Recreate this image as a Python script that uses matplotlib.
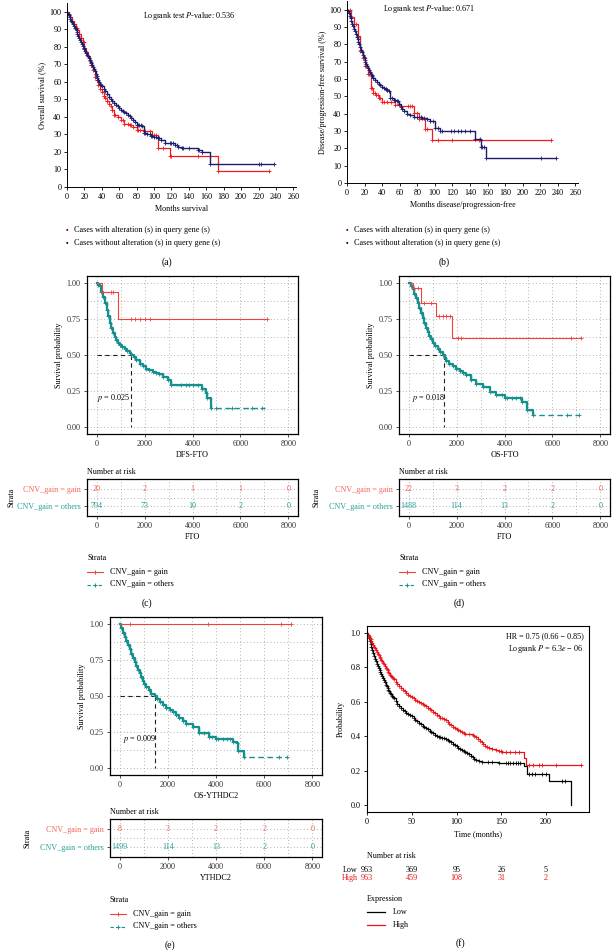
import matplotlib
matplotlib.use("Agg")
import matplotlib.pyplot as plt
import numpy as np
from matplotlib.lines import Line2D

plt.rcParams["font.family"] = ["Liberation Serif", "DejaVu Serif"]
plt.rcParams["mathtext.fontset"] = "stix"

W, H = 612, 950

# ---- (a) overall survival, months ----
a_red_t = [0, 2, 4, 6, 8, 10, 12, 14, 16, 18, 20, 22, 24, 26, 28, 30, 32, 34, 36, 38, 40, 42, 44, 46, 48, 50, 52, 54, 58, 62, 66, 72, 76, 80, 88, 98, 105, 118, 173]
a_red_s = [100, 98.5, 97, 95, 93, 91, 89.5, 87.5, 85, 82.5, 79.5, 77, 75, 72, 69.5, 67, 63, 61, 58, 56, 54, 52, 51, 49, 47.5, 46, 44, 41, 40, 38, 36, 35.5, 34, 32.5, 32, 29.5, 22, 17.5, 9]
a_red_cens = [11, 14, 16, 19, 28, 35, 42, 46, 52, 55, 64, 70, 73, 82, 84, 90, 95, 100, 102, 110, 119, 150, 232]
a_blue_t = [0, 1, 2, 3, 4, 5, 6, 7, 8, 9, 10, 11, 12, 13, 14, 15, 16, 17, 18, 19, 20, 21, 22, 23, 24, 25, 26, 27, 28, 29, 30, 31, 32, 33, 34, 35, 36, 37, 38, 39, 40, 42, 44, 46, 48, 50, 52, 54, 56, 58, 60, 62, 64, 66, 68, 70, 72, 74, 76, 78, 80, 86, 88, 92, 96, 100, 104, 108, 112, 124, 128, 132, 150, 155, 164]
a_blue_s = [100, 99, 98, 97, 96, 95, 94, 93, 92, 91, 90, 88.7, 87.5, 86.2, 85, 83.7, 82.5, 81.5, 80.5, 79.5, 78.5, 77.5, 76.5, 75.5, 74.5, 73.5, 72.5, 71.5, 70.5, 69.5, 68.5, 67.2, 66, 64.7, 63.5, 62.2, 61, 60, 59, 58.2, 57.5, 56, 54.5, 53, 51.5, 50, 49, 48, 47, 46, 45, 44, 43.3, 42.6, 42, 41.3, 40.6, 39.5, 38.5, 37, 35.5, 35, 31, 30, 29, 28.5, 28, 27, 25, 24, 23, 22, 21, 20, 13]
a_blue_cens = [81, 83, 85, 90, 95, 98, 102, 106, 118, 120, 122, 126, 133, 140, 152, 155, 220, 223, 238]

# ---- (b) disease/progression-free survival, months ----
b_red_t = [0, 4, 8, 13, 15, 18, 21, 24, 27, 30, 33, 36, 40, 55, 61, 76, 82, 89, 97]
b_red_s = [100, 96, 92, 85, 76, 72, 67.5, 63, 55, 52, 50.5, 49, 47, 45, 44.5, 40.5, 37, 31, 25]
b_red_cens = [3, 5, 10, 20, 22, 25, 28, 32, 35, 38, 42, 46, 50, 70, 72, 74, 80, 91, 104, 120, 150, 232]
b_blue_t = [0, 1, 2, 3, 4, 5, 6, 7, 8, 9, 10, 11, 12, 13, 14, 15, 16, 17, 18, 19, 20, 21, 22, 23, 24, 25, 26, 27, 28, 29, 30, 32, 34, 36, 38, 40, 42, 44, 46, 47.5, 49, 53, 57, 59, 61, 63, 65, 68, 72, 76, 85, 91, 95, 100, 106, 146, 152, 158]
b_blue_s = [100, 99, 98, 96.5, 95, 93.5, 92, 90.5, 89, 87.5, 86, 84.5, 83, 81.5, 80, 78.5, 77, 75.5, 74, 72.5, 71, 69.8, 68.6, 67.4, 66.2, 65, 64, 63, 62.2, 61.5, 60.8, 59.5, 58.3, 57.3, 56.3, 55.5, 54.7, 54, 53.5, 53, 49, 48, 47.4, 45.5, 44, 42.5, 41.3, 40, 39, 38, 37.5, 37, 36, 32, 30, 25.4, 21, 14.3]
b_blue_cens = [44, 46, 51, 55, 58, 80, 84, 88, 98, 104, 108, 118, 122, 126, 130, 134, 140, 151, 154, 156, 221, 238]

# ---- (c) DFS-FTO, days ----
c_red_t = [0, 207, 897]
c_red_s = [1.0, 0.94, 0.75]
c_red_cens = [207, 620, 690, 1450, 1590, 1790, 2000, 2210, 7100]
c_teal_t = [0, 70, 138, 200, 276, 340, 414, 480, 552, 620, 690, 760, 828, 900, 966, 1070, 1172, 1280, 1380, 1450, 1550, 1655, 1800, 1930, 2060, 2200, 2340, 2480, 2620, 2760, 2965, 3100, 4414, 4550, 4620, 4760]
c_teal_s = [1.0, 0.99, 0.977, 0.94, 0.907, 0.86, 0.814, 0.77, 0.72, 0.685, 0.65, 0.625, 0.605, 0.585, 0.57, 0.555, 0.54, 0.528, 0.516, 0.50, 0.483, 0.465, 0.44, 0.42, 0.405, 0.395, 0.385, 0.377, 0.365, 0.35, 0.325, 0.29, 0.26, 0.237, 0.198, 0.133]
c_teal_cens = [3520, 3720, 3860, 4000, 4210, 4970, 5660, 6480, 6900]

# ---- (d) OS-FTO, days ----
d_red_t = [0, 168, 517, 1147, 1804]
d_red_s = [1.0, 0.965, 0.86, 0.775, 0.62]
d_red_cens = [238, 378, 657, 937, 1287, 1427, 1567, 1707, 2065, 2205, 6790, 7190]
d_teal_t = [0, 80, 168, 240, 308, 380, 448, 520, 587, 660, 727, 800, 867, 940, 1007, 1110, 1217, 1320, 1427, 1500, 1566, 1700, 1846, 1980, 2126, 2260, 2405, 2615, 2825, 3105, 3385, 3664, 4014, 4713, 4923, 5203]
d_teal_s = [1.0, 0.98, 0.958, 0.925, 0.895, 0.86, 0.826, 0.79, 0.756, 0.722, 0.69, 0.66, 0.633, 0.61, 0.586, 0.563, 0.54, 0.52, 0.50, 0.48, 0.46, 0.44, 0.42, 0.405, 0.39, 0.375, 0.36, 0.326, 0.30, 0.28, 0.245, 0.22, 0.198, 0.175, 0.116, 0.081]
d_teal_cens = [3900, 4100, 4300, 4500, 4650, 6600, 7090]

# ---- (e) OS-YTHDC2, days ----
e_red_t = [0]
e_red_s = [1.0]
e_red_cens = [414, 3655, 6690, 7130]
e_teal_t = [0, 70, 138, 210, 276, 345, 414, 480, 552, 620, 690, 760, 828, 900, 966, 1030, 1103, 1210, 1310, 1448, 1550, 1655, 1800, 1931, 2070, 2207, 2340, 2483, 2620, 2759, 3034, 3310, 3724, 4000, 4690, 4855, 4900, 5172]
e_teal_s = [1.0, 0.97, 0.94, 0.91, 0.883, 0.855, 0.825, 0.795, 0.766, 0.737, 0.708, 0.683, 0.657, 0.63, 0.603, 0.583, 0.563, 0.54, 0.516, 0.50, 0.477, 0.455, 0.435, 0.416, 0.40, 0.388, 0.37, 0.35, 0.327, 0.304, 0.287, 0.245, 0.217, 0.199, 0.18, 0.17, 0.12, 0.077]
e_teal_cens = [3500, 3650, 3850, 4100, 4300, 4450, 4600, 6600, 6966]

# ---- (f) KM plotter, months ----
f_low_t = [0, 1, 2, 3, 4, 5, 6, 7, 8, 9, 10, 11, 12, 13, 14, 15, 16, 17, 18, 19, 20, 21, 22, 23, 24, 25, 26, 27, 28, 29, 30, 32, 34, 36, 38, 40, 42, 44, 46, 48, 50, 52, 54, 56, 58, 60, 62, 64, 66, 68, 70, 72, 74, 76, 78, 80, 82, 84, 86, 88, 90, 92, 94, 96, 98, 100, 102, 104, 106, 108, 110, 112, 114, 116, 118, 120, 122, 125, 129, 135, 140, 148, 155, 175.5, 179, 203, 227.5]
f_low_s = [1.0, 0.985, 0.97, 0.953, 0.935, 0.917, 0.898, 0.882, 0.866, 0.85, 0.835, 0.822, 0.81, 0.797, 0.785, 0.772, 0.76, 0.748, 0.736, 0.724, 0.712, 0.70, 0.69, 0.681, 0.671, 0.662, 0.653, 0.644, 0.636, 0.628, 0.62, 0.605, 0.59, 0.575, 0.565, 0.555, 0.546, 0.537, 0.529, 0.522, 0.515, 0.507, 0.497, 0.487, 0.477, 0.47, 0.462, 0.455, 0.448, 0.44, 0.432, 0.424, 0.417, 0.41, 0.403, 0.397, 0.393, 0.39, 0.387, 0.384, 0.378, 0.371, 0.364, 0.357, 0.349, 0.341, 0.333, 0.326, 0.319, 0.312, 0.306, 0.30, 0.294, 0.288, 0.282, 0.27, 0.263, 0.258, 0.252, 0.25, 0.248, 0.246, 0.244, 0.225, 0.182, 0.138, 0.0]
f_low_cens = [157, 160, 163, 166, 169, 171, 181, 184, 188, 196, 200, 218, 221]
f_high_t = [0, 1, 2, 3, 4, 5, 6, 7, 8, 9, 10, 11, 12, 13, 14, 15, 16, 17, 18, 19, 20, 21, 22, 23, 24, 25, 26, 27, 28, 29, 30, 32, 34, 36, 38, 40, 42, 44, 46, 48, 50, 52, 54, 56, 58, 60, 62, 64, 66, 68, 70, 72, 74, 76, 78, 80, 82, 84, 86, 88, 90, 92, 94, 96, 98, 100, 102, 104, 106, 108, 110, 114, 118, 120, 122, 124, 126, 128, 130, 132, 134, 136, 140, 144, 148, 151, 175, 178]
f_high_s = [1.0, 0.99, 0.98, 0.97, 0.962, 0.952, 0.94, 0.93, 0.92, 0.91, 0.90, 0.89, 0.88, 0.87, 0.862, 0.852, 0.843, 0.834, 0.825, 0.817, 0.808, 0.798, 0.79, 0.782, 0.774, 0.766, 0.758, 0.751, 0.744, 0.737, 0.73, 0.717, 0.704, 0.692, 0.68, 0.67, 0.66, 0.65, 0.642, 0.634, 0.627, 0.62, 0.612, 0.604, 0.597, 0.591, 0.585, 0.579, 0.574, 0.566, 0.558, 0.55, 0.542, 0.534, 0.525, 0.516, 0.508, 0.503, 0.498, 0.493, 0.483, 0.473, 0.464, 0.456, 0.449, 0.442, 0.436, 0.43, 0.425, 0.42, 0.415, 0.412, 0.409, 0.403, 0.395, 0.386, 0.375, 0.364, 0.352, 0.343, 0.336, 0.33, 0.324, 0.318, 0.312, 0.306, 0.273, 0.235]
f_high_cens = [150, 155, 160, 165, 170, 181, 185, 192.5, 196, 211, 238.6]

# ---- risk tables ----
risk_times = [0, 2000, 4000, 6000, 8000]
c_risk_gain = [20, 2, 1, 1, 0]
c_risk_others = [794, 73, 10, 2, 0]
d_risk_gain = [22, 3, 2, 2, 0]
d_risk_others = [1488, 114, 13, 2, 0]
e_risk_gain = [8, 3, 2, 2, 0]
e_risk_others = [1499, 114, 13, 2, 0]
f_risk_times = [0, 50, 100, 150, 200]
f_risk_low = [963, 369, 95, 26, 5]
f_risk_high = [963, 459, 108, 31, 2]

RED_A = "#ee1c1c"
BLUE_A = "#1c1c6e"
RED = "#f2403c"
TEAL = "#16908e"
RED_TXT = "#f4645c"
TEAL_TXT = "#2aa09c"
RED_F = "#e8141c"
FS = 5.9

fig = plt.figure(figsize=(W / 100, H / 100), dpi=100)


def px_axes(l, t, r, b):
    return fig.add_axes([l / W, 1 - b / H, (r - l) / W, (b - t) / H])


def fx(x):
    return x / W


def fy(y):
    return 1 - y / H


def step_at(t, s, x):
    i = np.searchsorted(t, x, side="right") - 1
    return np.asarray(s)[i]


def km(ax, t, s, cens, end, color, lw=0.9, ls="-", knots=True, ms=3):
    t = list(t) + [end]
    s = list(s) + [s[-1]]
    ax.step(t, s, where="post", color=color, lw=lw, ls=ls)
    if knots:
        ax.plot(t[1:-1], s[1:-1], "+", color=color, ms=ms, mew=0.6, ls="none")
    cy = step_at(t, s, np.array(cens))
    ax.plot(cens, cy, "+", color=color, ms=ms, mew=0.6, ls="none")


def cbio(ax, ylabel, xlabel, ptext, px_, py_):
    ax.set_xlim(0, 263)
    ax.set_ylim(0, 105)
    ax.set_xticks(range(0, 261, 20))
    ax.set_yticks(range(0, 101, 10))
    for sp in ["top", "right"]:
        ax.spines[sp].set_visible(False)
    for sp in ["left", "bottom"]:
        ax.spines[sp].set_linewidth(0.7)
    ax.tick_params(labelsize=FS, length=2, width=0.6, pad=2)
    ax.set_ylabel(ylabel, fontsize=FS, labelpad=2)
    ax.set_xlabel(xlabel, fontsize=FS, labelpad=3)
    ax.text(px_, py_, ptext, fontsize=FS, ha="center", va="center")


def cbio_legend(x, y):
    fig.text(fx(x), fy(y), "\u25aa", color="#7a0a0a", fontsize=5, ha="left", va="center")
    fig.text(fx(x + 8), fy(y), "Cases with alteration (s) in query gene (s)", fontsize=FS, va="center")
    fig.text(fx(x), fy(y + 13), "\u25aa", color="#10102a", fontsize=5, ha="left", va="center")
    fig.text(fx(x + 8), fy(y + 13), "Cases without alteration (s) in query gene (s)", fontsize=FS, va="center")


# (a)
ax = px_axes(67, 3, 296, 187)
km(ax, a_red_t, a_red_s, a_red_cens, 232, RED_A)
km(ax, a_blue_t, a_blue_s, a_blue_cens, 238, BLUE_A, lw=1.0)
cbio(ax, "Overall survival (%)", "Months survival", "Logrank test $P$-value: 0.536", 140, 97.7)
cbio_legend(66, 230)
fig.text(fx(167), fy(262), "(a)", fontsize=7, ha="center", va="center")

# (b)
ax = px_axes(347, 1, 578, 183)
km(ax, b_red_t, b_red_s, b_red_cens, 232, RED_A)
km(ax, b_blue_t, b_blue_s, b_blue_cens, 238, BLUE_A, lw=1.0)
cbio(ax, "Disease/progression-free survival (%)", "Months disease/progression-free",
     "Logrank test $P$-value: 0.671", 93.5, 100.5)
cbio_legend(346, 230)
fig.text(fx(444), fy(262), "(b)", fontsize=7, ha="center", va="center")


def gg_axes(ax):
    ax.set_xlim(-400, 8400)
    ax.set_xticks([0, 2000, 4000, 6000, 8000])
    ax.set_xticks([1000, 3000, 5000, 7000], minor=True)
    ax.grid(True, which="both", color="#9a9a9a", ls=(0, (1, 3)), lw=0.6)
    for sp in ax.spines.values():
        sp.set_linewidth(0.9)
    ax.tick_params(labelsize=FS, length=2.5, width=0.6, pad=2, colors="#333333")
    ax.tick_params(which="minor", length=0)
    ax.set_axisbelow(True)


def gg_panel(box, t_box, gain, others, surv, xlabel, tlabel, median, ptext, ptx, strata_x, lg_y, letter, letter_x):
    l, t, r, b = box
    ax = px_axes(l, t, r, b)
    gg_axes(ax)
    ax.set_ylim(-0.05, 1.05)
    ax.set_yticks([0, 0.25, 0.5, 0.75, 1.0])
    ax.set_yticks([0.125, 0.375, 0.625, 0.875], minor=True)
    ax.set_yticklabels(["0.00", "0.25", "0.50", "0.75", "1.00"])
    rt, rs, rc, rend, tt, ts, tc, tend = surv
    ax.plot([0, median], [0.5, 0.5], color="#222222", lw=0.8, ls=(0, (4, 3)))
    ax.plot([median, median], [0.5, 0], color="#222222", lw=0.8, ls=(0, (4, 3)))
    km(ax, tt, ts, tc, tend, TEAL, lw=1.0, ls=(0, (4, 2.5)), ms=3)
    # thick early part of the teal curve
    ax.step(tt, ts, where="post", color=TEAL, lw=1.6)
    km(ax, rt, rs, rc, rend, RED, lw=0.8, knots=False)
    ax.set_ylabel("Survival probability", fontsize=FS, labelpad=3)
    ax.set_xlabel(xlabel, fontsize=FS, labelpad=2)
    ax.text(ptx, 0.2, ptext, fontsize=FS, ha="left", va="center")

    # risk table
    tt0, tb0 = t_box
    tax = px_axes(l, tt0, r, tb0)
    gg_axes(tax)
    tax.set_ylim(0.4, 2.6)
    tax.set_yticks([2, 1])
    tax.set_yticks([1.5], minor=True)
    tax.set_yticklabels(["CNV_gain = gain", "CNV_gain = others"])
    tax.get_yticklabels()[0].set_color(RED_TXT)
    tax.get_yticklabels()[1].set_color(TEAL_TXT)
    for i, x in enumerate(risk_times):
        tax.text(x, 2, str(gain[i]), color=RED_TXT, fontsize=FS, ha="center", va="center")
        tax.text(x, 1, str(others[i]), color=TEAL_TXT, fontsize=FS, ha="center", va="center")
    tax.set_xlabel(tlabel, fontsize=FS, labelpad=2)
    fig.text(fx(l), fy(tt0 - 7), "Number at risk", fontsize=FS, ha="left", va="center")
    fig.text(fx(strata_x), fy((tt0 + tb0) / 2), "Strata", fontsize=FS, rotation=90, ha="center", va="center")

    # legend
    fig.text(fx(l), fy(lg_y), "Strata", fontsize=FS, ha="left", va="center")
    for k, (c, ls, lab) in enumerate([(RED, "-", "CNV_gain = gain"), (TEAL, (0, (3, 2)), "CNV_gain = others")]):
        yy = lg_y + 14 + 12.5 * k
        fig.add_artist(Line2D([fx(l), fx(l + 16)], [fy(yy), fy(yy)], transform=fig.transFigure,
                              color=c, lw=0.8, ls=ls))
        fig.add_artist(Line2D([fx(l + 8)], [fy(yy)], transform=fig.transFigure,
                              color=c, marker="+", ms=3.5, mew=0.7))
        fig.text(fx(l + 23), fy(yy), lab, fontsize=FS, ha="left", va="center")
    fig.text(fx(letter_x), fy(lg_y + 45), letter, fontsize=7, ha="center", va="center")


gg_panel((87, 276, 298, 434), (479, 516), c_risk_gain, c_risk_others,
         (c_red_t, c_red_s, c_red_cens, 7100, c_teal_t, c_teal_s, c_teal_cens, 7030),
         "DFS-FTO", "FTO", 1450, "$p$ = 0.025", 0, 12, 558, "(c)", 147)
gg_panel((399, 276, 610, 434), (479, 516), d_risk_gain, d_risk_others,
         (d_red_t, d_red_s, d_red_cens, 7190, d_teal_t, d_teal_s, d_teal_cens, 7090),
         "OS-FTO", "FTO", 1460, "$p$ = 0.018", 140, 316, 558, "(d)", 459)
gg_panel((110, 617, 322, 775), (819, 857), e_risk_gain, e_risk_others,
         (e_red_t, e_red_s, e_red_cens, 7130, e_teal_t, e_teal_s, e_teal_cens, 6966),
         "OS-YTHDC2", "YTHDC2", 1448, "$p$ = 0.009", 140, 28, 900, "(e)", 170)

# (f)
ax = px_axes(367, 626, 589, 812)
ax.set_xlim(0, 248)
ax.set_ylim(-0.04, 1.04)
km(ax, f_low_t, f_low_s, f_low_cens, 227.5, "black", lw=0.9, knots=False)
km(ax, f_high_t, f_high_s, f_high_cens, 238.6, RED_F, lw=0.9, knots=False)
ax.plot(f_low_t[1:-4], f_low_s[1:-4], "+", color="black", ms=2.5, mew=0.5, ls="none")
ax.plot(f_high_t[1:-2], f_high_s[1:-2], "+", color=RED_F, ms=2.5, mew=0.5, ls="none")
ax.set_xticks([0, 50, 100, 150, 200])
ax.set_yticks([0.0, 0.2, 0.4, 0.6, 0.8, 1.0])
ax.tick_params(labelsize=FS, length=2.5, width=0.6, pad=2)
for sp in ax.spines.values():
    sp.set_linewidth(0.8)
ax.set_xlabel("Time (months)", fontsize=FS, labelpad=3)
ax.set_ylabel("Probability", fontsize=FS, labelpad=4)
ax.text(0.975, 0.965, "HR = 0.75 (0.66 \u2212 0.85)\nLogrank $P$ = 6.3$e$ \u2212 06", transform=ax.transAxes,
        fontsize=FS, ha="right", va="top", linespacing=1.3)

rax = px_axes(367, 862, 589, 886)
rax.set_xlim(0, 248)
rax.set_ylim(0, 3)
rax.axis("off")
for i, x in enumerate(f_risk_times):
    rax.text(x, 2, str(f_risk_low[i]), fontsize=FS, ha="center", va="center")
    rax.text(x, 1, str(f_risk_high[i]), fontsize=FS, ha="center", va="center", color=RED_F)
rax.text(-10, 2, "Low", fontsize=FS, ha="right", va="center")
rax.text(-10, 1, "High", fontsize=FS, ha="right", va="center", color=RED_F)
fig.text(fx(367), fy(856), "Number at risk", fontsize=FS, ha="left", va="center")
fig.text(fx(367), fy(899), "Expression", fontsize=FS, ha="left", va="center")
for k, (c, lab) in enumerate([("black", "Low"), (RED_F, "High")]):
    yy = 912 + 13 * k
    fig.add_artist(Line2D([fx(367), fx(385)], [fy(yy), fy(yy)], transform=fig.transFigure, color=c, lw=0.9))
    fig.text(fx(393), fy(yy), lab, fontsize=FS, ha="left", va="center")
fig.text(fx(460), fy(943), "(f)", fontsize=7, ha="center", va="center")

fig.savefig("out.png", dpi=100)
